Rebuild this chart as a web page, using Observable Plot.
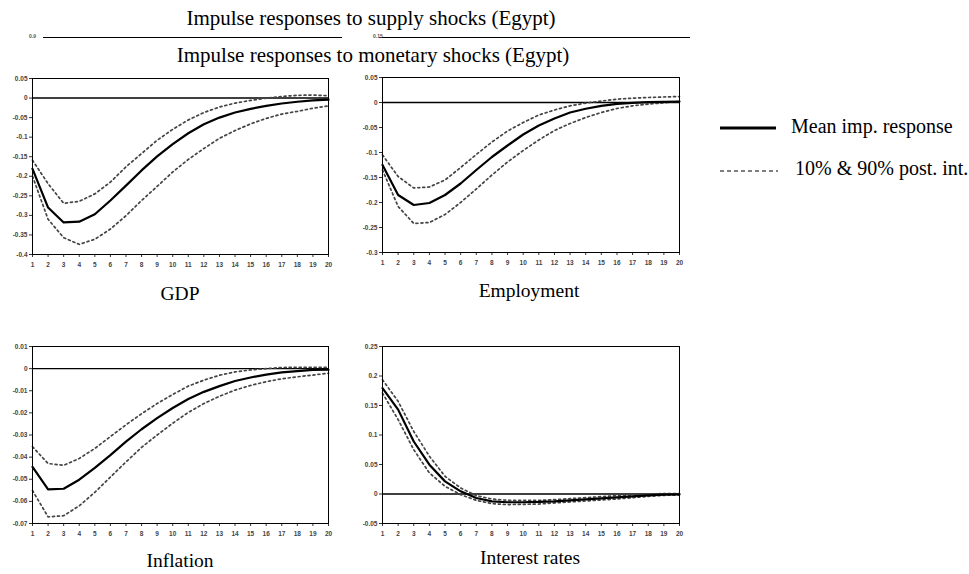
<!DOCTYPE html>
<html><head><meta charset="utf-8">
<script src="https://cdn.jsdelivr.net/npm/d3@7"></script>
<script src="https://cdn.jsdelivr.net/npm/@observablehq/plot@0.6"></script>
<style>
body{margin:0;background:#fff;}
#c{position:relative;width:969px;height:574px;overflow:hidden;font-family:"Liberation Serif",serif;}
.t{position:absolute;white-space:nowrap;color:#000;line-height:1;}
.p{position:absolute;}
</style></head><body><div id="c"></div>
<script>
const horizons = [1,2,3,4,5,6,7,8,9,10,11,12,13,14,15,16,17,18,19,20];

const gdpMean  = [-0.181,-0.280,-0.318,-0.316,-0.297,-0.262,-0.224,-0.185,-0.149,-0.118,-0.090,-0.067,-0.050,-0.037,-0.0275,-0.020,-0.014,-0.0095,-0.006,-0.004];
const gdpUpper = [-0.159,-0.219,-0.269,-0.264,-0.245,-0.215,-0.176,-0.142,-0.108,-0.080,-0.056,-0.037,-0.023,-0.013,-0.006,0.000,0.004,0.007,0.0077,0.006];
const gdpLower = [-0.200,-0.310,-0.357,-0.374,-0.361,-0.335,-0.301,-0.262,-0.226,-0.189,-0.157,-0.129,-0.103,-0.083,-0.066,-0.052,-0.041,-0.034,-0.026,-0.020];

const empMean  = [-0.125,-0.185,-0.205,-0.201,-0.185,-0.162,-0.135,-0.109,-0.086,-0.064,-0.046,-0.032,-0.020,-0.0125,-0.0066,-0.0026,-0.0007,0.0007,0.0013,0.002];
const empUpper = [-0.105,-0.148,-0.171,-0.169,-0.155,-0.130,-0.104,-0.079,-0.057,-0.040,-0.025,-0.015,-0.0066,-0.0013,0.003,0.0066,0.0086,0.010,0.011,0.012];
const empLower = [-0.135,-0.208,-0.242,-0.240,-0.224,-0.200,-0.173,-0.145,-0.119,-0.096,-0.075,-0.056,-0.042,-0.030,-0.020,-0.012,-0.0066,-0.0033,-0.0007,0.002];

const infMean  = [-0.0444,-0.0546,-0.0543,-0.0502,-0.0449,-0.0391,-0.0330,-0.0274,-0.0224,-0.0178,-0.0137,-0.0105,-0.0079,-0.0056,-0.0040,-0.0027,-0.0017,-0.0011,-0.0006,-0.0005];
const infUpper = [-0.0353,-0.0429,-0.0437,-0.0406,-0.0361,-0.0307,-0.0254,-0.0204,-0.0158,-0.0117,-0.0079,-0.0052,-0.0030,-0.0015,-0.0006,0.0000,0.0005,0.0006,0.0006,0.0006];
const infLower = [-0.0551,-0.0670,-0.0665,-0.0620,-0.0559,-0.0490,-0.0422,-0.0356,-0.0300,-0.0247,-0.0198,-0.0158,-0.0125,-0.0097,-0.0076,-0.0059,-0.0046,-0.0037,-0.0029,-0.0021];

const irMean  = [0.1795,0.143,0.089,0.0497,0.0214,0.0045,-0.0068,-0.0124,-0.014,-0.014,-0.0135,-0.0124,-0.0107,-0.009,-0.0073,-0.0056,-0.004,-0.0023,-0.0011,-0.0006];
const irUpper = [0.1936,0.157,0.106,0.064,0.030,0.0102,-0.0028,-0.0085,-0.0107,-0.0107,-0.0107,-0.0096,-0.0079,-0.0062,-0.0045,-0.0028,-0.0017,0.000,0.0006,0.0006];
const irLower = [0.171,0.126,0.075,0.0356,0.013,-0.0011,-0.0107,-0.0164,-0.018,-0.0175,-0.017,-0.0152,-0.0135,-0.0118,-0.0101,-0.0085,-0.0062,-0.004,-0.0023,-0.0017];

const gdpTicks = [0.05,0,-0.05,-0.1,-0.15,-0.2,-0.25,-0.3,-0.35,-0.4];
const gdpTickLabels = ["0.05","0","-0.05","-0.1","-0.15","-0.2","-0.25","-0.3","-0.35","-0.4"];
const empTicks = [0.05,0,-0.05,-0.1,-0.15,-0.2,-0.25,-0.3];
const empTickLabels = ["0.05","0","-0.05","-0.1","-0.15","-0.2","-0.25","-0.3"];
const infTicks = [0.01,0,-0.01,-0.02,-0.03,-0.04,-0.05,-0.06,-0.07];
const infTickLabels = ["0.01","0","-0.01","-0.02","-0.03","-0.04","-0.05","-0.06","-0.07"];
const irTicks = [0.25,0.2,0.15,0.1,0.05,0,-0.05];
const irTickLabels = ["0.25","0.2","0.15","0.1","0.05","0","-0.05"];

const titleSupply = "Impulse responses to supply shocks (Egypt)";
const titleMonetary = "Impulse responses to monetary shocks (Egypt)";
const legendMean = "Mean imp. response";
const legendBand = "10% & 90% post. int.";

const c = document.getElementById("c");
function txt(s, x, y, size, anchor) {
  const d = document.createElement("div");
  d.className = "t";
  d.textContent = s;
  d.style.fontSize = size + "px";
  d.style.left = x + "px";
  d.style.top = y + "px";
  if (anchor === "middle") d.style.transform = "translate(-50%,-50%)";
  else d.style.transform = "translate(0,-50%)";
  c.appendChild(d);
  return d;
}

function panel(mean, upper, lower, ticks, labels, box) {
  const rows = horizons.map((h,i) => ({h, mean: mean[i], upper: upper[i], lower: lower[i]}));
  const lab = new Map(ticks.map((t,i) => [t, labels[i]]));
  const p = Plot.plot({
    width: box.w, height: box.h,
    marginLeft: box.ml, marginRight: box.mr, marginTop: box.mt, marginBottom: box.mb,
    style: {fontSize: "6.5px", fontFamily: "Arial, 'Liberation Sans', sans-serif", color: "#333", background: "transparent", overflow: "visible"},
    x: {domain: [1, 20], label: null},
    y: {domain: [ticks[ticks.length-1], ticks[0]], label: null},
    marks: [
      Plot.axisX({ticks: horizons, tickFormat: d => String(d), tickSize: 3, tickPadding: 5, fontWeight: "bold", fill: "#444"}),
      Plot.axisY({ticks: ticks, tickFormat: d => lab.get(d), tickSize: 3, tickPadding: 2, fontWeight: "bold", fill: "#444"}),
      Plot.ruleY([0], {stroke: "#000", strokeWidth: 1.4}),
      Plot.line(rows, {x: "h", y: "upper", stroke: "#444", strokeWidth: 1.7, strokeDasharray: "2,3"}),
      Plot.line(rows, {x: "h", y: "lower", stroke: "#444", strokeWidth: 1.7, strokeDasharray: "2,3"}),
      Plot.line(rows, {x: "h", y: "mean", stroke: "#000", strokeWidth: 2.2}),
      Plot.frame({stroke: "#000", strokeWidth: 1})
    ]
  });
  p.classList.add("p");
  p.style.left = box.x + "px";
  p.style.top = box.y + "px";
  c.appendChild(p);
}

panel(gdpMean, gdpUpper, gdpLower, gdpTicks, gdpTickLabels, {x: 0, y: 60, w: 345, h: 225, ml: 32, mr: 17, mt: 18, mb: 31});
panel(empMean, empUpper, empLower, empTicks, empTickLabels, {x: 345, y: 60, w: 350, h: 225, ml: 37, mr: 16, mt: 17, mb: 33});
panel(infMean, infUpper, infLower, infTicks, infTickLabels, {x: 0, y: 330, w: 345, h: 225, ml: 32, mr: 17, mt: 16, mb: 32});
panel(irMean, irUpper, irLower, irTicks, irTickLabels, {x: 345, y: 330, w: 350, h: 225, ml: 37, mr: 16, mt: 16, mb: 32});

// titles
txt(titleSupply, 371, 18, 21, "middle");
txt(titleMonetary, 373, 55, 21, "middle");
// leftover frame tops of the overlapped figure
function hline(x1, x2, y) {
  const d = document.createElement("div");
  d.style.position = "absolute";
  d.style.left = x1 + "px"; d.style.top = y + "px";
  d.style.width = (x2 - x1) + "px"; d.style.height = "0";
  d.style.borderTop = "1.5px solid #000";
  c.appendChild(d);
}
hline(43, 342, 37);
hline(379, 690, 37);
const s1 = txt("0.9", 29, 36, 5, "left"); s1.style.fontFamily = "Arial, sans-serif"; s1.style.color = "#555"; s1.style.fontWeight = "bold";
const s2 = txt("0.15", 373, 36, 5, "left"); s2.style.fontFamily = "Arial, sans-serif"; s2.style.color = "#555"; s2.style.fontWeight = "bold";

// panel labels
txt("GDP", 180, 294, 19.5, "middle");
txt("Employment", 529, 291, 19.5, "middle");
txt("Inflation", 180, 561, 19.5, "middle");
txt("Interest rates", 530, 558, 19.5, "middle");

// legend
function legendLine(x, y, w, dash, sw) {
  const ns = "http://www.w3.org/2000/svg";
  const s = document.createElementNS(ns, "svg");
  s.setAttribute("width", w); s.setAttribute("height", 6);
  s.style.position = "absolute"; s.style.left = x + "px"; s.style.top = (y - 3) + "px";
  const l = document.createElementNS(ns, "line");
  l.setAttribute("x1", 0); l.setAttribute("x2", w); l.setAttribute("y1", 3); l.setAttribute("y2", 3);
  l.setAttribute("stroke", "#000"); l.setAttribute("stroke-width", sw);
  if (dash) l.setAttribute("stroke-dasharray", dash);
  s.appendChild(l);
  c.appendChild(s);
}
legendLine(720, 128, 56, null, 3);
txt(legendMean, 791, 126, 20, "left");
legendLine(720, 171, 58, "4,3", 1.2);
txt(legendBand, 795, 168, 20, "left");
</script>
</body></html>
